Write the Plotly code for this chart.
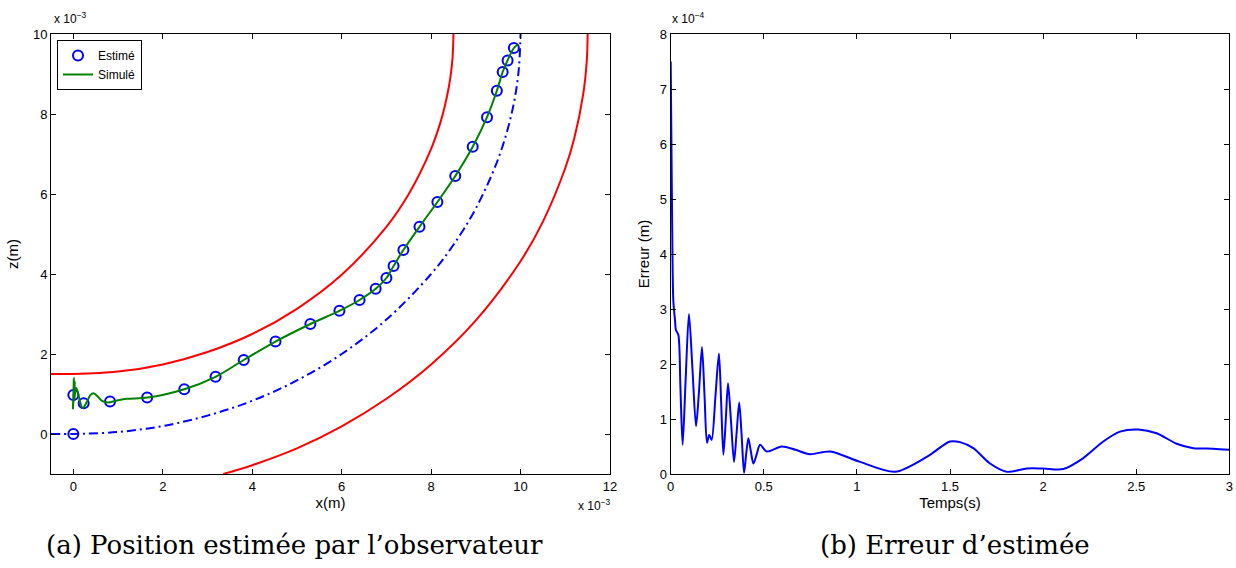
import plotly.graph_objects as go

# ---------------- data (left plot, units of 1e-3 m) ----------------
inner_x = [-0.5, 0.0, 1.0, 2.0, 3.0, 4.0, 5.0, 6.0, 7.0, 7.5, 8.0, 8.2, 8.3, 8.4, 8.45, 8.48, 8.5]
inner_z = [1.5, 1.5, 1.56, 1.74, 2.05, 2.5, 3.13, 3.98, 5.18, 6.0, 7.13, 7.76, 8.17, 8.7, 9.08, 9.42, 10.0]

outer_x = [3.354, 4.0, 5.0, 6.0, 7.0, 8.0, 9.0, 10.0, 10.5, 11.0, 11.2, 11.4, 11.48, 11.5]
outer_z = [-1.0, -0.78, -0.36, 0.19, 0.88, 1.74, 2.84, 4.32, 5.31, 6.65, 7.39, 8.49, 9.32, 10.0]

ref_x = [-0.5, 0.0, 1.0, 2.0, 3.0, 4.0, 5.0, 6.0, 7.0, 8.0, 8.5, 9.0, 9.5, 9.8, 9.95, 10.0]
ref_z = [0.0, 0.0, 0.05, 0.2, 0.46, 0.83, 1.34, 2.0, 2.86, 4.0, 4.73, 5.64, 6.88, 8.01, 9.0, 10.0]

sim_x = [0.0, -0.01, 0.01, 0.0, 0.03, 0.02, 0.06, 0.1, 0.15, 0.21, 0.3, 0.38, 0.45, 0.55, 0.65,
         0.78, 0.95, 1.19, 1.66, 2.48, 3.18, 3.81, 4.52, 5.3, 5.95, 6.4, 6.76, 7.0, 7.16, 7.38,
         7.74, 8.14, 8.54, 8.93, 9.25, 9.47, 9.6, 9.71, 9.85, 9.93]
sim_z = [1.0, 0.62, 1.4, 0.75, 1.3, 0.85, 1.15, 1.05, 0.8, 0.65, 0.8, 0.97, 1.02, 0.93, 0.82,
         0.79, 0.83, 0.88, 0.91, 1.12, 1.43, 1.85, 2.31, 2.75, 3.08, 3.35, 3.63, 3.9, 4.2, 4.6,
         5.18, 5.8, 6.45, 7.18, 7.92, 8.58, 9.05, 9.34, 9.65, 9.73]

est_x = [0.0, 0.0, 0.23, 0.82, 1.65, 2.48, 3.18, 3.81, 4.52, 5.3, 5.95, 6.4, 6.76, 7.0, 7.16,
         7.38, 7.74, 8.14, 8.54, 8.93, 9.25, 9.47, 9.6, 9.71, 9.85]
est_z = [0.0, 0.975, 0.77, 0.81, 0.91, 1.12, 1.43, 1.85, 2.31, 2.75, 3.08, 3.35, 3.63, 3.9, 4.2,
         4.6, 5.18, 5.8, 6.45, 7.18, 7.92, 8.58, 9.05, 9.34, 9.65]

# ---------------- data (right plot, error in units of 1e-4 m) ----------------
t_vals = [0.0, 0.004, 0.008, 0.014, 0.023, 0.028, 0.041, 0.052, 0.064, 0.08, 0.098, 0.117,
          0.136, 0.152, 0.168, 0.182, 0.195, 0.207, 0.22, 0.24, 0.259, 0.271, 0.283, 0.296,
          0.308, 0.324, 0.34, 0.354, 0.368, 0.381, 0.394, 0.405, 0.417, 0.43, 0.444, 0.462,
          0.48, 0.516, 0.596, 0.67, 0.748, 0.856, 1.017, 1.205, 1.375, 1.5, 1.554, 1.625,
          1.715, 1.805, 1.912, 2.0, 2.108, 2.216, 2.323, 2.413, 2.511, 2.61, 2.717, 2.807,
          2.914, 3.0]
err_vals = [7.5, 6.0, 4.5, 3.16, 2.8, 2.62, 2.53, 1.6, 0.53, 1.7, 2.91, 1.9,
            0.87, 1.5, 2.31, 1.4, 0.57, 0.71, 0.62, 1.4, 2.19, 1.3, 0.35, 1.0,
            1.65, 0.95, 0.22, 0.75, 1.3, 0.7, 0.02, 0.35, 0.65, 0.42, 0.19, 0.36,
            0.53, 0.41, 0.5, 0.44, 0.36, 0.41, 0.22, 0.04, 0.31, 0.59, 0.58, 0.47,
            0.19, 0.04, 0.1, 0.1, 0.09, 0.29, 0.59, 0.77, 0.81, 0.74, 0.55, 0.47,
            0.46, 0.44]

left_xticks = [0, 2, 4, 6, 8, 10, 12]
left_yticks = [0, 2, 4, 6, 8, 10]
right_xticks = [0, 0.5, 1, 1.5, 2, 2.5, 3]
right_xticklabels = ["0", "0.5", "1", "1.5", "2", "2.5", "3"]
right_yticks = [0, 1, 2, 3, 4, 5, 6, 7, 8]

W, H = 1236, 568
SANS = "Liberation Sans, Arial, sans-serif"
SERIF = "DejaVu Serif, serif"

fig = go.Figure()

# left plot
fig.add_trace(go.Scatter(x=est_x, y=est_z, mode="markers", name="Estimé",
                         marker=dict(symbol="circle-open", size=10, color="#0000ff",
                                     line=dict(width=2, color="#0000ff")),
                         xaxis="x", yaxis="y"))
fig.add_trace(go.Scatter(x=sim_x, y=sim_z, mode="lines", name="Simulé",
                         line=dict(color="#008000", width=2, shape="spline", smoothing=1),
                         xaxis="x", yaxis="y"))
fig.add_trace(go.Scatter(x=inner_x, y=inner_z, mode="lines", showlegend=False,
                         line=dict(color="#ff0000", width=2, shape="spline"),
                         xaxis="x", yaxis="y"))
fig.add_trace(go.Scatter(x=outer_x, y=outer_z, mode="lines", showlegend=False,
                         line=dict(color="#ff0000", width=2, shape="spline"),
                         xaxis="x", yaxis="y"))
fig.add_trace(go.Scatter(x=ref_x, y=ref_z, mode="lines", showlegend=False,
                         line=dict(color="#0000ff", width=2, shape="spline",
                                   dash="9px,4px,2px,4px"),
                         xaxis="x", yaxis="y"))

# right plot
fig.add_trace(go.Scatter(x=t_vals, y=err_vals, mode="lines", showlegend=False,
                         line=dict(color="#0000ff", width=2, shape="spline", smoothing=0.8),
                         xaxis="x2", yaxis="y2"))

axis_common = dict(showgrid=False, zeroline=False, showline=True, linecolor="black",
                   linewidth=1, mirror="ticks", ticks="inside", ticklen=5,
                   tickcolor="black", tickfont=dict(family=SANS, size=13, color="black"))

L0, L1 = 51 / W, 610 / W
R0, R1 = 670.7 / W, 1229.3 / W
B, T = 1 - 474 / H, 1 - 34 / H

fig.update_layout(
    width=W, height=H,
    margin=dict(l=0, r=0, t=0, b=0, autoexpand=False),
    paper_bgcolor="white", plot_bgcolor="white",
    xaxis=dict(domain=[L0, L1], range=[-0.5, 12], tickvals=left_xticks,
               title=dict(text="x(m)", font=dict(family=SANS, size=15, color="black"), standoff=4),
               anchor="y", **axis_common),
    yaxis=dict(domain=[B, T], range=[-1, 10], tickvals=left_yticks,
               title=dict(text="z(m)", font=dict(family=SANS, size=15, color="black"), standoff=10),
               anchor="x", **axis_common),
    xaxis2=dict(domain=[R0, R1], range=[0, 3], tickvals=right_xticks, ticktext=right_xticklabels,
                title=dict(text="Temps(s)", font=dict(family=SANS, size=15, color="black"), standoff=4),
                anchor="y2", **axis_common),
    yaxis2=dict(domain=[B, T], range=[0, 8], tickvals=right_yticks,
                title=dict(text="Erreur (m)", font=dict(family=SANS, size=15, color="black"), standoff=6),
                anchor="x2", **axis_common),
    legend=dict(x=57 / W, y=1 - 40 / H, xanchor="left", yanchor="top",
                bgcolor="white", bordercolor="black", borderwidth=1,
                font=dict(family=SANS, size=12, color="black"),
                tracegroupgap=0, itemwidth=30),
    showlegend=True,
)

ann_font = dict(family=SANS, size=12, color="black")
fig.add_annotation(x=52 / W, y=1 - 18 / H, xref="paper", yref="paper", xanchor="left",
                   yanchor="middle", text="x 10<sup>−3</sup>", showarrow=False, font=ann_font)
fig.add_annotation(x=670 / W, y=1 - 18 / H, xref="paper", yref="paper", xanchor="left",
                   yanchor="middle", text="x 10<sup>−4</sup>", showarrow=False, font=ann_font)
fig.add_annotation(x=576 / W, y=1 - 505 / H, xref="paper", yref="paper", xanchor="left",
                   yanchor="middle", text="x 10<sup>−3</sup>", showarrow=False, font=ann_font)

cap_font = dict(family=SERIF, size=26, color="black")
fig.add_annotation(x=294 / W, y=1 - 545 / H, xref="paper", yref="paper", xanchor="center",
                   yanchor="middle", text="(a) Position estimée par l’observateur",
                   showarrow=False, font=cap_font)
fig.add_annotation(x=955 / W, y=1 - 545 / H, xref="paper", yref="paper", xanchor="center",
                   yanchor="middle", text="(b) Erreur d’estimée",
                   showarrow=False, font=cap_font)

fig.write_html("out.html", config={"displayModeBar": False},
               post_script="document.body.style.margin='0';document.body.style.overflow='hidden';")
